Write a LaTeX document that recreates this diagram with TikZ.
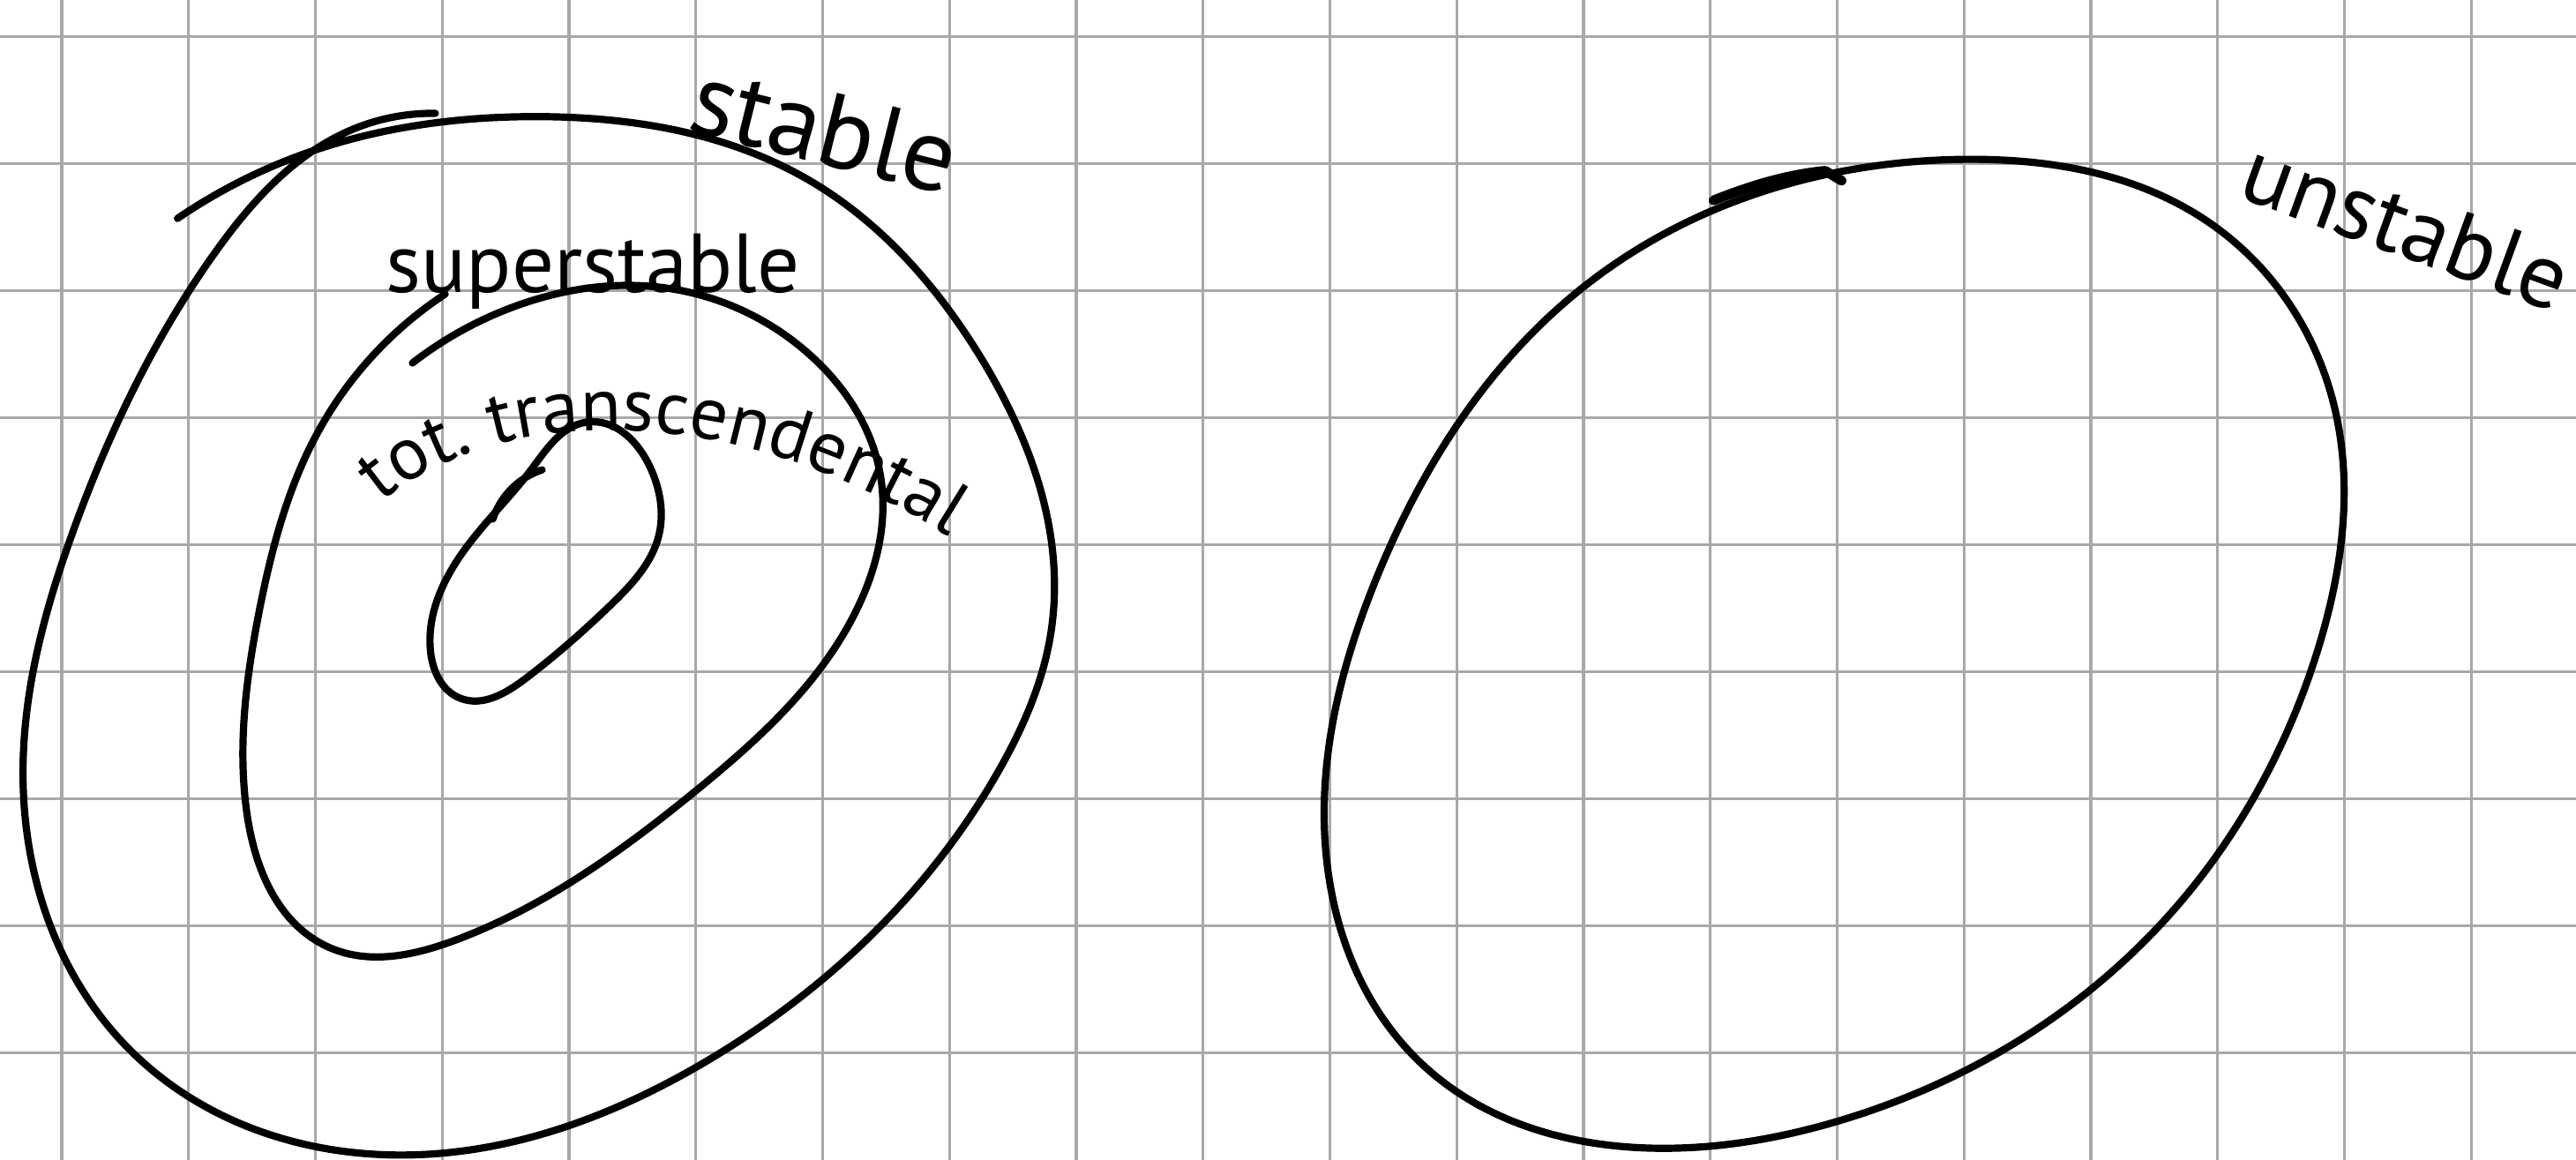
\documentclass[tikz,border=0pt]{standalone}
\usepackage{fontspec}
\setmainfont{PT Sans}
\usepackage{tikz}
\usetikzlibrary{decorations.text, hobby}
\definecolor{gridgray}{RGB}{168,168,168}

\begin{document}
\begin{tikzpicture}[
  x=0.02cm, y=-0.02cm,
  gridline/.style={draw=gridgray, line width=1.05pt},
  pen/.style={draw=black, line width=2.5pt, line cap=round, line join=round},
  curve/.style={pen, use Hobby shortcut},
  word/.style={inner sep=0pt, anchor=base, text=black}
]
  \fill[white] (0,0) rectangle (1568,706);
  \useasboundingbox (0,0) rectangle (1568,706);

  \foreach \i in {0,...,19}
    \draw[gridline] ({37.6+77.19*\i},0) -- ({37.6+77.19*\i},706);
  \foreach \j in {0,...,8}
    \draw[gridline] (0,{22.4+77.3*\j}) -- (1568,{22.4+77.3*\j});

  % stable
  \draw[curve] (108,133) .. (187,93) .. (329,71) .. (493,110) .. (596,216)
    .. (640,383) .. (608,469) .. (430,646) .. (252,703) .. (81,641)
    .. (14,470) .. (45,322) .. (130,155) .. (214,79) .. (265,69);

  % superstable
  \draw[curve] (271,179) .. (193,264) .. (158,371) .. (150,493) .. (201,577)
    .. (278,572) .. (424,481) .. (519,376) .. (536,290) .. (493,216)
    .. (403,175) .. (312,187) .. (251,221);

  % tot. transcendental
  \draw[curve, closed=true] (357,257) .. (396,285) .. (401,326)
    .. (372,368) .. (320,413) .. (280,425) .. (262,396) .. (284,333)
    .. (324,285);
  \draw[curve] (300,316) .. (314,295) .. (330,286);

  % unstable
  \draw[curve, closed=true] (1196,97) .. (1344,135) .. (1420,244)
    .. (1411,395) .. (1313,565) .. (1117,683) .. (1010,699) .. (868,650)
    .. (806,496) .. (837,354) .. (966,173);
  \draw[pen, line width=3.4pt] (1043,122) .. controls (1068,112) and (1090,106)
    .. (1111,104) -- (1121,110);

  \node[word, rotate=-14, font=\fontsize{36}{36}\selectfont] (stab) at (497,99) {stable};
  \node[word, font=\fontsize{29}{29}\selectfont] (super) at (361,178) {superstable};
  \node[word, rotate=-20, font=\fontsize{32}{32}\selectfont] (unstab) at (1458,155) {unstable};
  \path[decorate, decoration={text along path, text align=left,
      text={|\fontsize{26}{26}\selectfont|tot. transcendental}}]
    (232,306) .. controls (300,248) and (445,238) .. (587,333);
\end{tikzpicture}
\end{document}
